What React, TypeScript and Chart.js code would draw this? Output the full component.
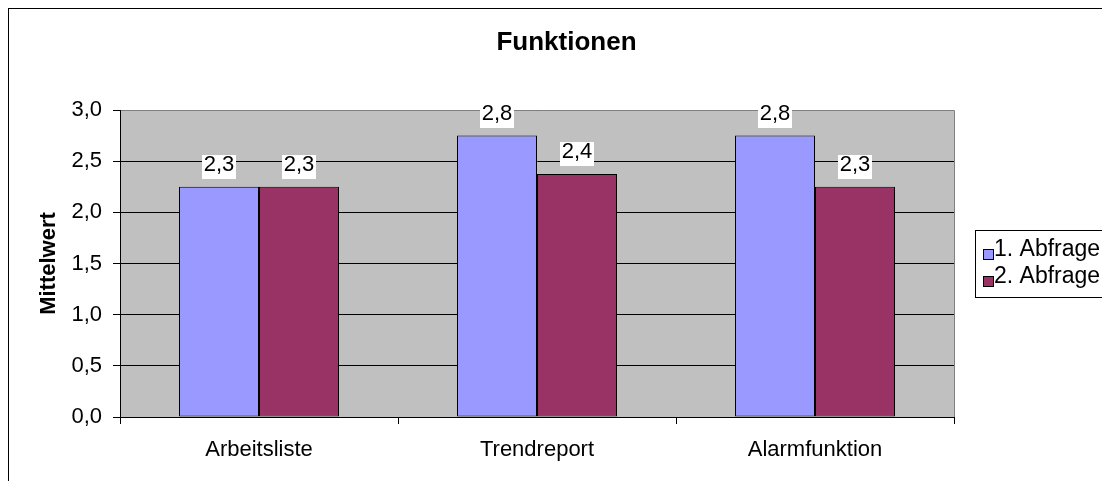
import React, { useEffect, useRef } from 'react';
import { Chart, registerables } from 'chart.js';

Chart.register(...registerables);

const categories = ['Arbeitsliste', 'Trendreport', 'Alarmfunktion'];
const seriesNames = ['1. Abfrage', '2. Abfrage'];
const abfrage1 = [2.25, 2.75, 2.75];
const abfrage2 = [2.25, 2.375, 2.25];
const seriesColors = ['#9999FF', '#993366'];
const yTicks = [0, 0.5, 1, 1.5, 2, 2.5, 3];
const chartTitle = 'Funktionen';
const yAxisTitle = 'Mittelwert';

const FONT = '"Liberation Sans", Arial, Helvetica, sans-serif';
const fmt = (v: number) => v.toFixed(1).replace('.', ',');

const excelPlugin = {
  id: 'excelLook',
  beforeDraw(chart: any) {
    const { ctx, chartArea: a, width, height } = chart;
    ctx.save();
    ctx.fillStyle = '#ffffff';
    ctx.fillRect(0, 0, width, height);
    ctx.strokeStyle = '#000000';
    ctx.lineWidth = 1;
    ctx.strokeRect(0.5, 0.5, width - 1, height - 1);
    ctx.fillStyle = '#C0C0C0';
    ctx.fillRect(a.left, a.top, a.right - a.left, a.bottom - a.top);
    ctx.font = `bold 26px ${FONT}`;
    ctx.fillStyle = '#000000';
    ctx.textAlign = 'center';
    ctx.textBaseline = 'middle';
    ctx.fillText(chartTitle, width / 2, 34.5);
    ctx.restore();
  },
  beforeDatasetsDraw(chart: any) {
    const { ctx, chartArea: a } = chart;
    ctx.save();
    ctx.strokeStyle = '#808080';
    ctx.lineWidth = 1;
    ctx.beginPath();
    ctx.moveTo(a.left + 1, a.top + 0.5);
    ctx.lineTo(a.right + 0.5, a.top + 0.5);
    ctx.lineTo(a.right + 0.5, a.bottom);
    ctx.stroke();
    ctx.restore();
  },
  afterDatasetsDraw(chart: any) {
    const { ctx } = chart;
    ctx.save();
    ctx.font = `22px ${FONT}`;
    ctx.textAlign = 'center';
    ctx.textBaseline = 'middle';
    chart.data.datasets.forEach((ds: any, di: number) => {
      const meta = chart.getDatasetMeta(di);
      meta.data.forEach((bar: any, i: number) => {
        const text = fmt(ds.data[i]);
        const w = ctx.measureText(text).width + 3;
        const h = 24;
        const bottom = bar.y - 8;
        const top = bottom - h;
        ctx.fillStyle = '#ffffff';
        ctx.fillRect(Math.round(bar.x - w / 2), Math.round(top), Math.round(w), h);
        ctx.fillStyle = '#000000';
        ctx.fillText(text, bar.x, top + 10);
      });
    });
    ctx.restore();
  },
  afterDraw(chart: any) {
    const { ctx, chartArea: a } = chart;
    const ds = chart.data.datasets;
    const left = Math.round(a.right + 21);
    const h = 67;
    const w = 150;
    const top = Math.round((a.top + a.bottom) / 2 - h / 2);
    const rowH = 27;
    ctx.save();
    ctx.fillStyle = '#ffffff';
    ctx.fillRect(left, top, w, h);
    ctx.strokeStyle = '#000000';
    ctx.lineWidth = 1;
    ctx.strokeRect(left + 0.5, top + 0.5, w, h);
    ctx.font = `23px ${FONT}`;
    ctx.textAlign = 'left';
    ctx.textBaseline = 'middle';
    ds.forEach((d: any, i: number) => {
      const cy = top + h / 2 + (i - (ds.length - 1) / 2) * rowH;
      const sq = Math.round(cy - 1);
      ctx.fillStyle = d.backgroundColor;
      ctx.fillRect(left + 8, sq, 11, 11);
      ctx.strokeStyle = '#000000';
      ctx.strokeRect(left + 8.5, sq + 0.5, 10, 10);
      ctx.fillStyle = '#000000';
      ctx.fillText(d.label, left + 19, cy);
    });
    ctx.restore();
  },
};

export default function App() {
  const ref = useRef<HTMLCanvasElement | null>(null);

  useEffect(() => {
    if (!ref.current) return;
    const chart = new Chart(ref.current, {
      type: 'bar',
      data: {
        labels: categories,
        datasets: [
          {
            label: seriesNames[0],
            data: abfrage1,
            backgroundColor: seriesColors[0],
            borderColor: '#000000',
            borderWidth: 1,
            borderSkipped: false,
            categoryPercentage: 160 / 278,
            barPercentage: 1.0,
          },
          {
            label: seriesNames[1],
            data: abfrage2,
            backgroundColor: seriesColors[1],
            borderColor: '#000000',
            borderWidth: 1,
            borderSkipped: false,
            categoryPercentage: 160 / 278,
            barPercentage: 1.0,
          },
        ],
      },
      options: {
        responsive: false,
        animation: false,
        devicePixelRatio: 1,
        layout: { padding: { top: 102, right: 171, bottom: 17, left: 0 } },
        plugins: {
          legend: { display: false },
          title: { display: false },
          tooltip: { enabled: false },
        },
        scales: {
          x: {
            offset: true,
            grid: {
              display: true,
              offset: true,
              drawOnChartArea: false,
              drawTicks: true,
              tickLength: 7,
              color: '#000000',
              lineWidth: 1,
            },
            border: { display: true, color: '#000000', width: 1 },
            ticks: {
              color: '#000000',
              font: { family: FONT, size: 22 },
              padding: 13,
              maxRotation: 0,
              autoSkip: false,
            },
            afterFit: (s: any) => {
              s.height = 64;
            },
          },
          y: {
            min: 0,
            max: 3,
            afterBuildTicks: (s: any) => {
              s.ticks = yTicks.map((v) => ({ value: v }));
            },
            ticks: {
              color: '#000000',
              font: { family: FONT, size: 22 },
              padding: 11,
              callback: (v: any) => fmt(Number(v)),
            },
            grid: {
              color: '#000000',
              lineWidth: 1,
              drawTicks: true,
              tickLength: 7,
            },
            border: { display: true, color: '#000000', width: 1 },
            title: {
              display: true,
              text: yAxisTitle,
              color: '#000000',
              font: { family: FONT, size: 22, weight: 'bold' },
              padding: { top: 28, bottom: 0 },
            },
            afterFit: (s: any) => {
              s.width = 112;
            },
          },
        },
      },
      plugins: [excelPlugin],
    } as any);
    return () => chart.destroy();
  }, []);

  return (
    <div style={{ width: 1102, height: 473, overflow: 'hidden' }}>
      <canvas ref={ref} width={1117} height={490} style={{ display: 'block', width: 1117, height: 490 }} />
    </div>
  );
}
